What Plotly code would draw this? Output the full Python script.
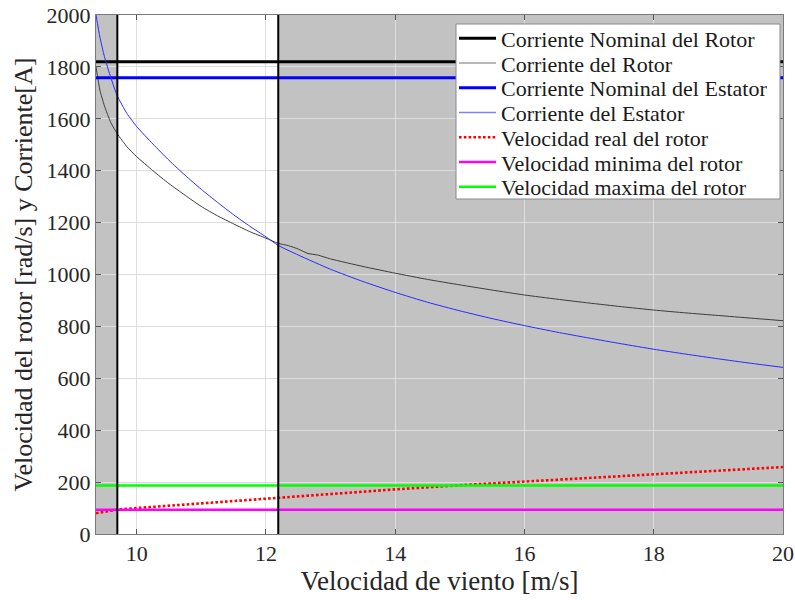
import plotly.graph_objects as go

# Wind speed range shown and operating limits
x_range = [9.37, 20.0]
y_range = [0, 2000]
v_min_op = 9.7      # lower limit of the controlled region
v_rated = 12.19     # rated wind speed
shade_spans = [(9.37, 9.7), (12.19, 20.0)]

# Nominal values
i_rotor_nom = 1820
i_stator_nom = 1758
w_min = 93.5
w_max = 187

# Rotor current [A] vs wind speed
v_rotor = [9.37, 9.43, 9.5, 9.6, 9.7, 9.85, 10.0, 10.25, 10.5, 10.75, 11.0, 11.25, 11.5,
           11.75, 12.0, 12.19, 12.35, 12.5, 12.65, 12.8, 13.0, 13.5, 14.0, 14.5, 15.0,
           15.5, 16.0, 16.5, 17.0, 17.5, 18.0, 18.5, 19.0, 19.5, 20.0]
i_rotor = [1800, 1711, 1650, 1585, 1542, 1492, 1454, 1400, 1350, 1305, 1262, 1226, 1195,
           1165, 1140, 1120, 1111, 1098, 1081, 1075, 1060, 1031, 1005, 981, 960,
           940, 921, 905, 890, 876, 863, 852, 842, 832, 822]

# Stator current [A] vs wind speed
v_stator = [9.37, 9.43, 9.5, 9.6, 9.7, 9.85, 10.0, 10.25, 10.5, 10.75, 11.0, 11.25,
            11.5, 11.75, 12.0, 12.19, 12.5, 13.0, 13.5, 14.0, 14.5, 15.0, 15.5, 16.0,
            16.5, 17.0, 17.5, 18.0, 18.5, 19.0, 19.5, 20.0]
i_stator = [2000, 1915, 1840, 1758, 1688, 1620, 1570, 1503, 1440, 1382, 1328, 1278,
            1230, 1186, 1145, 1112, 1075, 1020, 973, 931, 893, 860, 830, 803,
            778, 755, 733, 712, 693, 675, 658, 642]

# Actual rotor speed [rad/s] vs wind speed
v_speed = [9.37, 9.7, 10.0, 11.0, 12.0, 12.19, 13.0, 14.0, 15.0, 16.0, 17.0, 18.0, 19.0, 20.0]
w_rotor = [80, 94, 100, 118, 137, 141, 155, 172, 188, 202, 216, 230, 244, 258]

x_ticks = [10, 12, 14, 16, 18, 20]
y_ticks = list(range(0, 2001, 200))

FONT = "'Liberation Serif', 'Times New Roman', serif"
INK = "#262626"

# Figure geometry (pixels)
W, H = 795, 600
M_L, M_R, M_T, M_B = 96, 12, 15, 66
PW, PH = W - M_L - M_R, H - M_T - M_B


def px_x(p):
    """Horizontal pixel -> paper fraction."""
    return (p - M_L) / PW


def px_y(p):
    """Vertical pixel (from top) -> paper fraction."""
    return (H - M_B - p) / PH


series = [
    dict(name="Corriente Nominal del Rotor", x=x_range, y=[i_rotor_nom] * 2,
         line=dict(color="black", width=3)),
    dict(name="Corriente del Rotor", x=v_rotor, y=i_rotor,
         line=dict(color="#3c3c3c", width=1, shape="spline", smoothing=0.5)),
    dict(name="Corriente Nominal del Estator", x=x_range, y=[i_stator_nom] * 2,
         line=dict(color="#0000ff", width=3)),
    dict(name="Corriente del Estator", x=v_stator, y=i_stator,
         line=dict(color="#2a2aff", width=1, shape="spline", smoothing=0.5)),
    dict(name="Velocidad real del rotor", x=v_speed, y=w_rotor,
         line=dict(color="#ff0000", width=2.6, dash="2.6px,2.2px")),
    dict(name="Velocidad minima del rotor", x=x_range, y=[w_min] * 2,
         line=dict(color="#ff00ff", width=2.5)),
    dict(name="Velocidad maxima del rotor", x=x_range, y=[w_max] * 2,
         line=dict(color="#00ff00", width=2.5)),
]

# Legend sample colours (thin curves shown a bit lighter in the key)
legend_colors = ["black", "#a0a0a0", "#0000ff", "#8080ff", "#ff0000", "#ff00ff", "#00ff00"]

fig = go.Figure()

for s in series:
    fig.add_trace(go.Scatter(x=s["x"], y=s["y"], mode="lines", line=s["line"],
                             name=s["name"], showlegend=False))

# Vertical limits
for xv in (v_min_op, v_rated):
    fig.add_trace(go.Scatter(x=[xv, xv], y=y_range, mode="lines",
                             line=dict(color="black", width=2),
                             showlegend=False, hoverinfo="skip"))

# Shaded regions outside the controlled band
for x0, x1 in shade_spans:
    fig.add_shape(type="rect", xref="x", yref="y", x0=x0, x1=x1,
                  y0=y_range[0], y1=y_range[1],
                  fillcolor="#c2c2c2", line=dict(width=0), layer="below")

# Legend box, drawn in paper space
LEG_X0, LEG_X1, LEG_Y0, LEG_Y1 = 456, 780, 24, 199
ROW0, ROW_STEP = 38.3, 24.75
fig.add_shape(type="rect", xref="paper", yref="paper",
              x0=px_x(LEG_X0), x1=px_x(LEG_X1), y0=px_y(LEG_Y1), y1=px_y(LEG_Y0),
              fillcolor="white", line=dict(color="#8a8a8a", width=1), layer="above")
for k, s in enumerate(series):
    yc = ROW0 + ROW_STEP * k
    ln = dict(color=legend_colors[k], width=max(s["line"]["width"], 1.5))
    if "dash" in s["line"]:
        ln["dash"] = s["line"]["dash"]
    fig.add_shape(type="line", xref="paper", yref="paper",
                  x0=px_x(459), x1=px_x(496), y0=px_y(yc), y1=px_y(yc),
                  line=ln, layer="above")
    fig.add_annotation(xref="paper", yref="paper", x=px_x(499), y=px_y(yc + 1),
                       text=s["name"], showarrow=False, xanchor="left", yanchor="middle",
                       font=dict(family=FONT, size=22, color="#1a1a1a"))

axis_common = dict(
    showline=True, mirror="ticks", linecolor="#7a7a7a", linewidth=1,
    ticks="inside", ticklen=5, tickcolor="#555555",
    showgrid=True, gridcolor="#dedede", gridwidth=1, zeroline=False,
    tickfont=dict(family=FONT, size=22, color=INK),
    automargin=False,
)

fig.update_xaxes(range=x_range, tickvals=x_ticks,
                 title=dict(text="Velocidad de viento [m/s]",
                            font=dict(family=FONT, size=27, color=INK), standoff=5),
                 **axis_common)
fig.update_yaxes(range=y_range, tickvals=y_ticks,
                 title=dict(text="Velocidad del rotor [rad/s] y Corriente[A]",
                            font=dict(family=FONT, size=26, color=INK), standoff=6),
                 **axis_common)

fig.update_layout(
    width=W, height=H,
    margin=dict(l=M_L, r=M_R, t=M_T, b=M_B, pad=0, autoexpand=False),
    plot_bgcolor="white", paper_bgcolor="white",
    font=dict(family=FONT, color=INK),
    showlegend=False,
)

fig.write_html("out.html")
